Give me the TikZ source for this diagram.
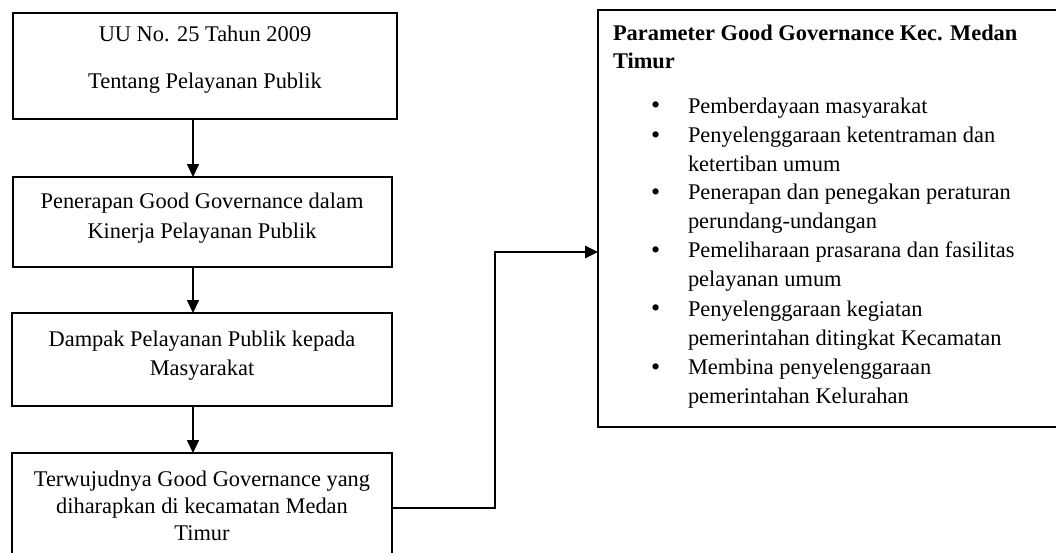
\documentclass[tikz,border=0pt]{standalone}
\usepackage{fontspec}
\setmainfont{Liberation Serif}
\usetikzlibrary{arrows.meta}
\begin{document}
\begin{tikzpicture}[x=1pt,y=-1pt,
  box/.style={draw,line width=1.3pt,rectangle,anchor=north west,inner sep=0pt,outer sep=0pt},
  txt/.style={inner sep=0pt,outer sep=0pt,font=\fontsize{22.4}{28.5}\selectfont},
  ctxt/.style={txt,anchor=base,align=center},
  ltxt/.style={txt,anchor=base west,align=left},
  arr/.style={line width=1.6pt,-{Triangle[length=13pt,width=12pt]}},
  link/.style={line width=2.6pt,-{Triangle[length=13pt,width=12pt]}}
]
\useasboundingbox (0,0) rectangle (1056,552);
% boxes
\node[box,minimum width=384pt,minimum height=106pt] (b1) at (13,13) {};
\node[box,minimum width=379pt,minimum height=90pt] (b2) at (13,177) {};
\node[box,minimum width=380pt,minimum height=93pt] (b3) at (12,313) {};
\node[box,minimum width=380pt,minimum height=112pt] (b4) at (12,453) {};
\node[box,minimum width=464pt,minimum height=417pt] (pb) at (598,10) {};
% texts (multi-line nodes are placed by the baseline of their last line)
\node[ctxt] (t1a) at (205,41) {UU No. 25 Tahun 2009};
\node[ctxt] (t1b) at (205,88) {Tentang Pelayanan Publik};
\node[ctxt,font=\fontsize{22.4}{30}\selectfont] (t2) at (202,238) {Penerapan Good Governance dalam\\Kinerja Pelayanan Publik};
\node[ctxt,font=\fontsize{22.4}{29}\selectfont] (t3) at (202,375) {Dampak Pelayanan Publik kepada\\Masyarakat};
\node[ctxt,font=\fontsize{22.4}{27}\selectfont] (t4) at (202,540) {Terwujudnya Good Governance yang\\diharapkan di kecamatan Medan\\Timur};
\node[ltxt,font=\fontsize{22.4}{28}\selectfont\bfseries] (pt) at (613,68) {Parameter Good Governance Kec. Medan\\Timur};
% bullet list: bullet y / last-line y / name / text
\foreach \yb/\y/\name/\body in {
  113/113/i1/{Pemberdayaan masyarakat},
  143/171/i2/{Penyelenggaraan ketentraman dan\\ketertiban umum},
  200/228/i3/{Penerapan dan penegakan peraturan\\perundang-undangan},
  258/286/i4/{Pemeliharaan prasarana dan fasilitas\\pelayanan umum},
  316/345/i5/{Penyelenggaraan kegiatan\\pemerintahan ditingkat Kecamatan},
  375/403/i6/{Membina penyelenggaraan\\pemerintahan Kelurahan}}{
  \node[ltxt,font=\fontsize{26}{28.5}\selectfont] (b\name) at (651,\yb) {•};
  \node[ltxt] (\name) at (688,\y) {\body};
}
% connectors
\coordinate (ax) at (193,0);
\draw[arr] (b1.south -| ax) -- (b2.north -| ax);
\draw[arr] (b2.south -| ax) -- (b3.north -| ax);
\draw[arr] (b3.south -| ax) -- (b4.north -| ax);
\coordinate (e1) at (495,508);
\coordinate (e2) at (495,252);
\draw[link] (b4.east |- e1) -- (e1) -- (e2) -- (pb.west |- e2);
\end{tikzpicture}
\end{document}
